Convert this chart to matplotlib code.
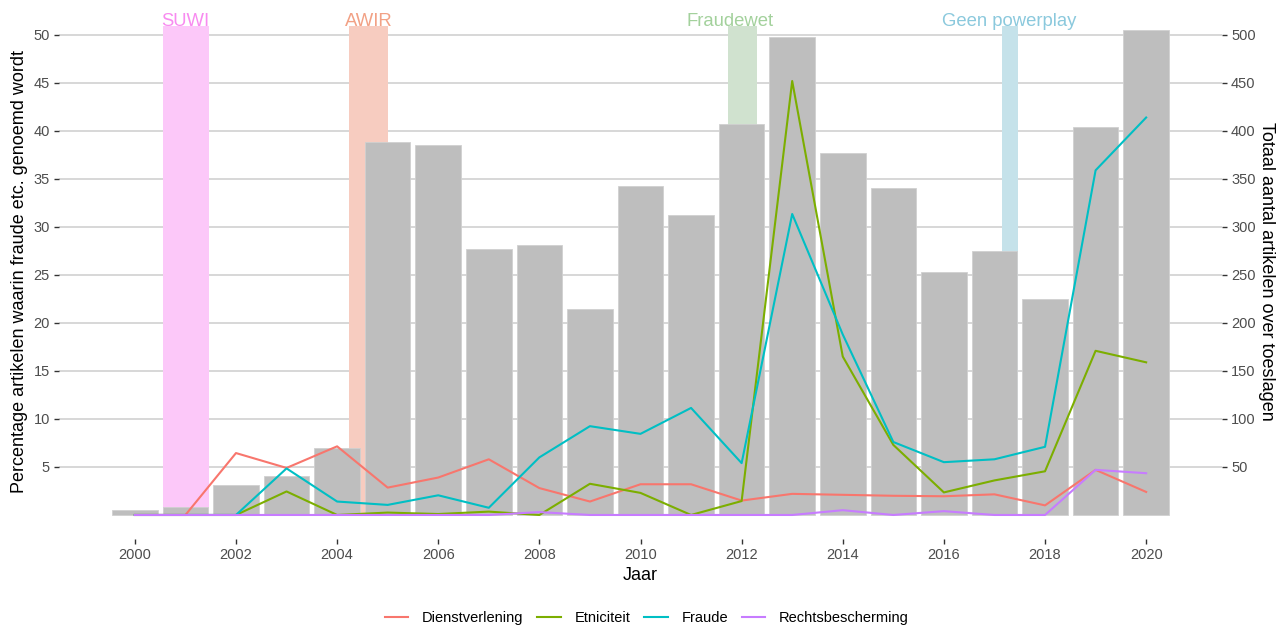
import numpy as np
import matplotlib
matplotlib.use("Agg")
import matplotlib.pyplot as plt

plt.rcParams['font.family'] = ['Liberation Sans', 'DejaVu Sans']

jaren = np.arange(2000, 2021)
totaal = [5, 8, 31, 41, 70, 388, 385, 277, 281, 215, 343, 312, 407, 498,
          377, 341, 253, 275, 225, 404, 505]
dienstverlening = [0, 0, 6.45, 4.9, 7.15, 2.85, 3.9, 5.8, 2.8, 1.4, 3.2, 3.2,
                   1.5, 2.2, 2.1, 2.0, 1.95, 2.15, 1.0, 4.7, 2.4]
etniciteit = [0, 0, 0, 2.45, 0, 0.25, 0.1, 0.35, 0, 3.25, 2.3, 0, 1.45, 45.2,
              16.5, 7.3, 2.35, 3.6, 4.55, 17.1, 15.9]
fraude = [0, 0, 0, 4.85, 1.4, 1.05, 2.05, 0.75, 6.0, 9.25, 8.45, 11.15, 5.4,
          31.35, 18.8, 7.6, 5.5, 5.8, 7.1, 35.9, 41.4]
rechtsbescherming = [0, 0, 0, 0, 0, 0, 0, 0, 0.3, 0, 0, 0, 0, 0, 0.5, 0, 0.4,
                     0, 0, 4.7, 4.35]

# periods of new laws
wet_namen = ['SUWI', 'AWIR', 'Fraudewet', 'Geen powerplay']
wet_start = [2000.55, 2004.23, 2011.73, 2017.14]
wet_eind = [2001.46, 2005.01, 2012.30, 2017.47]
wet_label_x = [2001.0, 2004.62, 2011.77, 2017.3]
span_kleuren = ['#FCC8F9', '#F7CCC0', '#D0E2CF', '#C5E2EA']
label_kleuren = ['#F88BF0', '#F2A185', '#A3D19C', '#8BC9DD']

reeksen = [('Dienstverlening', dienstverlening, '#F8766D'),
           ('Etniciteit', etniciteit, '#7CAE00'),
           ('Fraude', fraude, '#00BFC4'),
           ('Rechtsbescherming', rechtsbescherming, '#C77CFF')]

fig = plt.figure(figsize=(12.83, 6.27), dpi=100)
ax = fig.add_axes([59/1283, 1 - 538.5/627, (1222 - 59)/1283, (538.5 - 4.7)/627])

ax.set_xlim(1998.5, 2021.5)
ax.set_ylim(-2.45, 53.15)

ax.set_yticks(np.arange(5, 51, 5))
ax.set_xticks(np.arange(2000, 2021, 2))
ax.grid(axis='y', color='#D4D4D4', lw=1.3, zorder=0)
ax.set_axisbelow(True)

top = 50.9
for naam, x0, x1, lx, sc, lc in zip(wet_namen, wet_start, wet_eind, wet_label_x,
                                    span_kleuren, label_kleuren):
    ax.fill_between([x0, x1], 0, top, color=sc, lw=0, zorder=1)
    ax.text(lx, top + 0.05, naam, color=lc, fontsize=13.3, ha='center',
            va='baseline', zorder=4)

ax.bar(jaren, np.array(totaal) / 10, width=0.9, color='#BEBEBE',
       edgecolor='#D0D0D0', lw=0.6, zorder=2)

for naam, waarden, kleur in reeksen:
    ax.plot(jaren, waarden, color=kleur, lw=1.5, label=naam, zorder=3)

sec = ax.secondary_yaxis('right', functions=(lambda v: v * 10, lambda v: v / 10))
sec.set_yticks(np.arange(50, 501, 50))

for a in (ax, sec):
    for s in a.spines.values():
        s.set_visible(False)
    a.tick_params(length=3.5, width=1, color='#333333', labelcolor='#4D4D4D',
                  labelsize=10.5, pad=3)

ax.set_xlabel('Jaar', fontsize=13, labelpad=4)
ax.set_ylabel('Percentage artikelen waarin fraude etc. genoemd wordt',
              fontsize=13, labelpad=4)
sec.set_ylabel('Totaal aantal artikelen over toeslagen', fontsize=13,
               rotation=-90, labelpad=14)

fig.legend(loc='center', bbox_to_anchor=(647/1283, 1 - 618/627), ncol=4,
           frameon=False, fontsize=10.5, handlelength=1.6, handletextpad=0.95,
           columnspacing=0.95)

fig.savefig('out.png', dpi=100)
